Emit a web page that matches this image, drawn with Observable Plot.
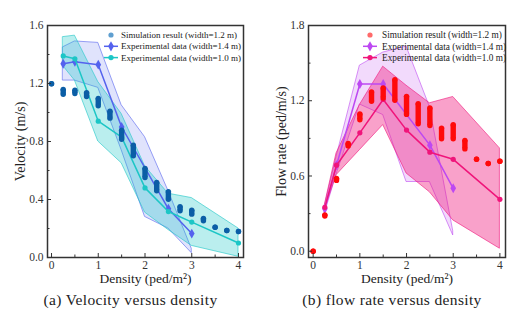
<!DOCTYPE html>
<html><head><meta charset="utf-8">
<script src="https://cdn.jsdelivr.net/npm/d3@7"></script>
<script src="https://cdn.jsdelivr.net/npm/@observablehq/plot@0.6"></script>
<style>
body{margin:0;background:#fff;font-family:"Liberation Serif",serif;}
#wrap{display:flex;width:523px;height:316px;overflow:hidden;}
.panel{position:relative;height:316px;}
.cap{position:absolute;left:0;top:290px;width:100%;text-align:center;font-family:"Liberation Serif",serif;font-size:15.5px;letter-spacing:0.35px;line-height:20px;color:#222;}
svg{display:block;overflow:visible;}
</style></head><body>
<div id="wrap"><div class="panel" id="pa"></div><div class="panel" id="pb"></div></div>
<script>
// ---- data ----
const simDensity  = [0,0.25,0.5,0.75,1,1.25,1.5,1.75,2,2.25,2.5,2.75,3,3.25,3.5,3.75,4];
const simVelLow   = [1.198,1.126,1.131,1.110,1.046,0.961,0.816,0.701,0.552,0.460,0.402,0.322,0.299,0.253,0.209,0.186,0.179];
const simVelHigh  = [1.198,1.159,1.154,1.136,1.097,1.009,0.878,0.774,0.614,0.517,0.453,0.350,0.326,0.269,0.209,0.186,0.179];
const simFlowLow  = [0,0.280,0.565,0.840,1.048,1.195,1.222,1.203,1.091,1.016,1.003,0.896,0.896,0.816,0.734,0.699,0.718];
const simFlowHigh = [0,0.290,0.580,0.860,1.094,1.270,1.302,1.368,1.235,1.176,1.142,0.982,1.008,0.883,0.734,0.699,0.718];

const exp14Density = [0.25,0.5,1,1.5,2.5,3];
const exp14Vel     = [1.336,1.35,1.33,0.90,0.336,0.165];
const exp14Flow    = [0.339,0.686,1.334,1.334,0.846,0.502];
const exp10Density = [0.25,0.5,1,1.5,2,2.5,3,4];
const exp10Vel     = [1.39,1.37,0.94,0.83,0.48,0.317,0.244,0.10];
const exp10Flow    = [0.35,0.686,0.944,1.21,0.966,0.79,0.733,0.414];

const band14Density  = [0.25,0.5,1,1.5,2,2.5,3];
const band14VelHigh  = [1.45,1.49,1.48,1.05,0.83,0.46,0.06];
const band14VelLow   = [1.22,1.22,1.17,0.74,0.28,0.20,0.03];
const band14FlowHigh = [0.36,0.75,1.48,1.584,1.632,1.15,0.16];
const band14FlowLow  = [0.30,0.61,1.17,1.086,0.552,0.552,0.126];
const band10Density  = [0.25,0.5,1,1.5,2,2.5,3,4];
const band10VelHigh  = [1.52,1.53,1.21,0.99,0.63,0.44,0.41,0.20];
const band10VelLow   = [1.32,1.22,0.80,0.65,0.31,0.19,0.08,0.005];
const band10FlowHigh = [0.37,0.78,1.166,1.472,1.32,1.18,1.23,0.82];
const band10FlowLow  = [0.33,0.606,0.806,1.006,0.62,0.47,0.246,0.02];

const xTicks = [0,1,2,3,4];
const xMinor = [0.5,1.5,2.5,3.5];
const velTicks = [0,0.4,0.8,1.2,1.6];
const velMinor = [0.2,0.6,1.0,1.4];
const flowTicks = [0,0.6,1.2,1.8];
const flowMinor = [0.3,0.9,1.5];
const legendLabels = ["Simulation result (width=1.2 m)","Experimental data (width=1.4 m)","Experimental data (width=1.0 m)"];
const xLabel = "Density (ped/m²)";

const zip = (d, a, b) => d.map((x, i) => ({d: x, lo: a[i], hi: b ? b[i] : a[i]}));

function panel(cfg) {
  const sim = zip(simDensity, cfg.simLow, cfg.simHigh);
  const b14 = zip(band14Density, cfg.b14Lo, cfg.b14Hi);
  const b10 = zip(band10Density, cfg.b10Lo, cfg.b10Hi);
  const e14 = zip(exp14Density, cfg.e14);
  const e10 = zip(exp10Density, cfg.e10);
  const fmt = d3.format(".1f");
  const svg = Plot.plot({
    width: cfg.width, height: 290,
    marginTop: 25, marginBottom: 33, marginLeft: 47, marginRight: cfg.width - cfg.frameRight,
    x: {domain: cfg.xDomain}, y: {domain: cfg.yDomain},
    style: {fontFamily: '"Liberation Serif", serif', fontSize: "11.5px", color: "#333", background: "#fff"},
    marks: [
      Plot.areaY(b14, {x: "d", y1: "lo", y2: "hi", fill: cfg.c14, fillOpacity: cfg.o14, stroke: cfg.c14, strokeOpacity: 0.75, strokeWidth: 0.8}),
      Plot.areaY(b10, {x: "d", y1: "lo", y2: "hi", fill: cfg.c10, fillOpacity: cfg.o10, stroke: cfg.c10, strokeOpacity: 0.75, strokeWidth: 0.8}),
      Plot.line(e14, {x: "d", y: "lo", stroke: cfg.c14, strokeWidth: 1.5}),
      Plot.dot(e14, {x: "d", y: "lo", fill: cfg.c14, r: 3, symbol: "diamond"}),
      Plot.line(e10, {x: "d", y: "lo", stroke: cfg.c10, strokeWidth: 1.5}),
      Plot.dot(e10, {x: "d", y: "lo", fill: cfg.c10, r: 2.6}),
      Plot.ruleX(sim, {x: "d", y1: "lo", y2: "hi", stroke: cfg.simColor, strokeWidth: 5.4}),
      Plot.dot(sim, {x: "d", y: "lo", r: 2.7, fill: cfg.simColor}),
      Plot.dot(sim, {x: "d", y: "hi", r: 2.7, fill: cfg.simColor}),
      Plot.axisX(xTicks, {tickSize: -4, tickFormat: () => "", label: null, stroke: "#333"}),
      Plot.axisX(xMinor, {tickSize: -2.5, tickFormat: () => "", label: null, stroke: "#333"}),
      Plot.axisX(xTicks, {tickSize: 0, tickPadding: 3, label: null, tickFormat: d3.format("d")}),
      Plot.axisY(cfg.yTicks, {tickSize: -4, tickFormat: () => "", label: null, stroke: "#333"}),
      Plot.axisY(cfg.yMinor, {tickSize: -2.5, tickFormat: () => "", label: null, stroke: "#333"}),
      Plot.axisY(cfg.yTicks, {tickSize: 0, tickPadding: 4, label: null, tickFormat: fmt}),
      Plot.frame({stroke: "#333", strokeWidth: 1.5}),
      Plot.text([cfg.yLabel], {frameAnchor: "left", dx: -27, rotate: -90, textAnchor: "middle", fontSize: 14, fill: "#222"}),
      Plot.text([xLabel], {frameAnchor: "bottom", dy: 25, fontSize: 13.5, fill: "#222"})
    ]
  });
  // legend
  const g = d3.select(svg).append("g")
    .attr("font-family", '"Liberation Serif", serif').attr("font-size", cfg.legendSize)
    .attr("fill", "#222").attr("text-anchor", "start");
  const rows = [35, 46.3, 57.6];
  const mx = cfg.legendMarkerX, tx = cfg.legendTextX;
  g.append("circle").attr("cx", mx).attr("cy", rows[0]).attr("r", 2.6).attr("fill", cfg.simLegend);
  [[cfg.c14, d3.symbolDiamond, 30], [cfg.c10, d3.symbolCircle, 22]].forEach(([c, s, a], i) => {
    const y = rows[i + 1];
    g.append("line").attr("x1", mx - 7).attr("x2", mx + 7).attr("y1", y).attr("y2", y).attr("stroke", c).attr("stroke-width", 1.5);
    g.append("path").attr("d", d3.symbol(s, a)()).attr("transform", `translate(${mx},${y})`).attr("fill", c);
  });
  legendLabels.forEach((t, i) => g.append("text").attr("x", tx).attr("y", rows[i]).attr("dy", "0.35em").text(t));
  const el = document.getElementById(cfg.el);
  el.style.width = cfg.width + "px";
  el.appendChild(svg);
  const cap = document.createElement("div");
  cap.className = "cap"; cap.textContent = cfg.caption;
  el.appendChild(cap);
}

panel({
  el: "pa", width: 261, frameRight: 243,
  xDomain: [-0.086, 4.107], yDomain: [0, 1.6],
  yTicks: velTicks, yMinor: velMinor, yLabel: "Velocity (m/s)",
  simLow: simVelLow, simHigh: simVelHigh, simColor: "#0b5ea6", simLegend: "#5f9fd0",
  b14Lo: band14VelLow, b14Hi: band14VelHigh, b10Lo: band10VelLow, b10Hi: band10VelHigh,
  e14: exp14Vel, e10: exp10Vel, c14: "#5462ee", c10: "#1cc6c6", o14: 0.18, o10: 0.3,
  legendMarkerX: 111, legendTextX: 121, legendSize: 9,
  caption: "(a) Velocity versus density"
});
panel({
  el: "pb", width: 262, frameRight: 244,
  xDomain: [-0.1, 4.12], yDomain: [-0.05, 1.8],
  yTicks: flowTicks, yMinor: flowMinor, yLabel: "Flow rate (ped/m/s)",
  simLow: simFlowLow, simHigh: simFlowHigh, simColor: "#ff0a0a", simLegend: "#ff6a6a",
  b14Lo: band14FlowLow, b14Hi: band14FlowHigh, b10Lo: band10FlowLow, b10Hi: band10FlowHigh,
  e14: exp14Flow, e10: exp10Flow, c14: "#bd48f2", c10: "#f0147a", o14: 0.2, o10: 0.4,
  legendMarkerX: 109, legendTextX: 121, legendSize: 9.3,
  caption: "(b) flow rate versus density"
});
</script>
</body></html>
